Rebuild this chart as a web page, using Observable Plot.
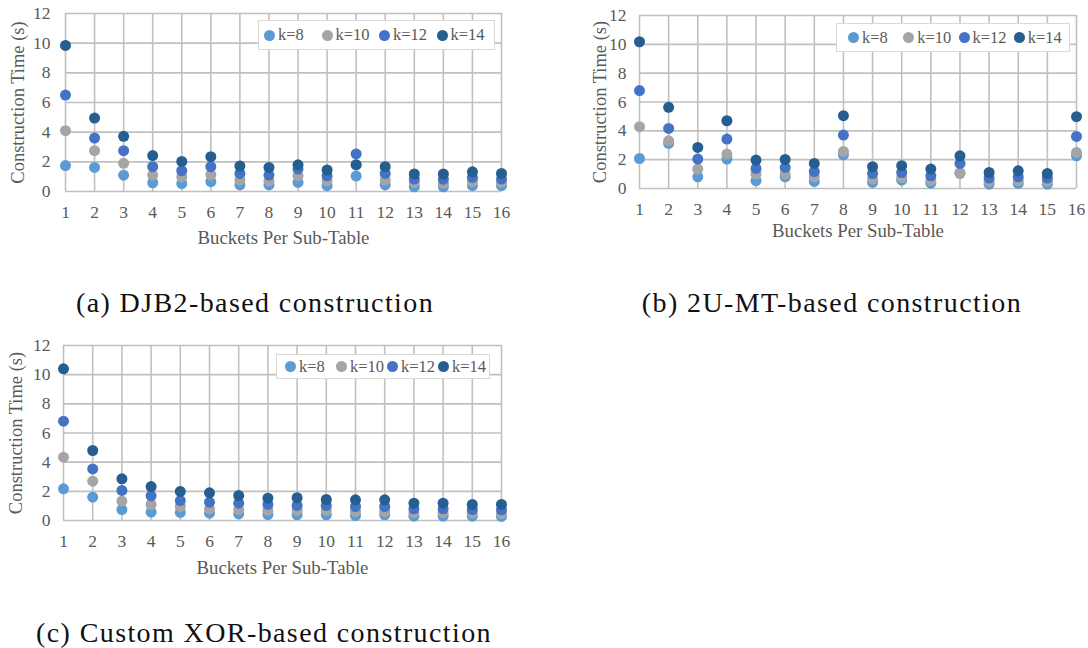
<!DOCTYPE html>
<html>
<head>
<meta charset="utf-8">
<script src="https://cdn.jsdelivr.net/npm/d3@7"></script>
<script src="https://cdn.jsdelivr.net/npm/@observablehq/plot@0.6"></script>
<style>
  html, body { margin: 0; padding: 0; background: #fff; }
  #root { position: relative; width: 1088px; height: 648px; overflow: hidden; background: #fff; }
  .panel { position: absolute; }
  .legend { position: absolute; box-sizing: border-box; background: #fff; border: 1px solid #d9d9d9;
            display: flex; align-items: center; font-family: "Liberation Serif", serif; font-size: 16.5px; color: #595959; }
  .item { display: flex; align-items: center; white-space: nowrap; }
  .sw { display: inline-block; width: 11px; height: 11px; border-radius: 50%; margin-right: 3px; }
  .caption { position: absolute; font-family: "Liberation Serif", serif; font-size: 28px; line-height: 28px;
             letter-spacing: 1.4px; color: #111; text-align: center; white-space: nowrap; }
</style>
</head>
<body>
<div id="root"></div>
<script>
// ---- data ----
const buckets = [1, 2, 3, 4, 5, 6, 7, 8, 9, 10, 11, 12, 13, 14, 15, 16];
const seriesNames = ["k=8", "k=10", "k=12", "k=14"];
const seriesColors = ["#5B9BD5", "#A5A5A5", "#4472C4", "#255E91"];
const yTicks = [0, 2, 4, 6, 8, 10, 12];
const xAxisLabel = "Buckets Per Sub-Table";
const yAxisLabel = "Construction Time (s)";

// (a) DJB2
const djb2K8  = [1.75, 1.62, 1.10, 0.59, 0.54, 0.66, 0.45, 0.45, 0.61, 0.39, 1.04, 0.45, 0.32, 0.32, 0.39, 0.39];
const djb2K10 = [4.10, 2.75, 1.90, 1.11, 0.99, 1.13, 0.77, 0.72, 1.06, 0.72, 1.78, 0.77, 0.61, 0.55, 0.66, 0.61];
const djb2K12 = [6.50, 3.60, 2.75, 1.67, 1.40, 1.67, 1.22, 1.11, 1.51, 1.06, 2.53, 1.22, 0.84, 0.82, 0.95, 0.84];
const djb2K14 = [9.85, 4.95, 3.72, 2.42, 2.03, 2.35, 1.72, 1.62, 1.80, 1.45, 1.81, 1.67, 1.18, 1.18, 1.33, 1.22];

// (b) 2U-MT
const mtK8  = [2.08, 3.13, 0.81, 2.04, 0.54, 0.81, 0.49, 2.34, 0.42, 0.58, 0.37, 1.05, 0.30, 0.35, 0.30, 2.27];
const mtK10 = [4.29, 3.31, 1.35, 2.39, 1.00, 1.00, 0.81, 2.57, 0.65, 0.76, 0.54, 1.10, 0.49, 0.54, 0.49, 2.50];
const mtK12 = [6.79, 4.17, 2.04, 3.43, 1.39, 1.46, 1.18, 3.71, 1.04, 1.11, 0.88, 1.74, 0.72, 0.81, 0.72, 3.61];
const mtK14 = [10.18, 5.63, 2.85, 4.70, 1.97, 2.02, 1.74, 5.05, 1.51, 1.58, 1.35, 2.27, 1.11, 1.23, 1.04, 4.98];

// (c) Custom XOR
const xorK8  = [2.17, 1.60, 0.75, 0.57, 0.55, 0.50, 0.46, 0.41, 0.39, 0.39, 0.34, 0.39, 0.30, 0.30, 0.30, 0.28];
const xorK10 = [4.34, 2.70, 1.33, 1.10, 0.96, 0.80, 0.75, 0.69, 0.69, 0.69, 0.62, 0.62, 0.53, 0.53, 0.50, 0.48];
const xorK12 = [6.81, 3.54, 2.06, 1.69, 1.37, 1.26, 1.19, 1.10, 1.03, 1.03, 0.96, 0.96, 0.80, 0.80, 0.75, 0.73];
const xorK14 = [10.40, 4.80, 2.86, 2.33, 1.99, 1.90, 1.71, 1.53, 1.56, 1.44, 1.42, 1.42, 1.19, 1.19, 1.10, 1.10];

const captions = ["(a) DJB2-based construction", "(b) 2U-MT-based construction", "(c) Custom XOR-based construction"];

// ---- layout ----
const panels = [
  { series: [djb2K8, djb2K10, djb2K12, djb2K14], caption: captions[0],
    box: { left: 0, top: 0, width: 520, height: 250 }, m: { l: 65, r: 19, t: 13, b: 59 },
    xTickPad: 14, yTickPad: 15, xLabelDy: 46, yLabelDx: -47,
    legend: { left: 258, top: 20, width: 237, height: 30, pad: 5, step: 60 },
    cap: { center: 255, top: 289 } },
  { series: [mtK8, mtK10, mtK12, mtK14], caption: captions[1],
    box: { left: 570, top: 0, width: 518, height: 250 }, m: { l: 69, r: 12, t: 15, b: 62 },
    xTickPad: 14, yTickPad: 13, xLabelDy: 42, yLabelDx: -39,
    legend: { left: 836, top: 23, width: 234, height: 29, pad: 11, step: 56 },
    cap: { center: 832, top: 289 } },
  { series: [xorK8, xorK10, xorK12, xorK14], caption: captions[2],
    box: { left: 0, top: 330, width: 520, height: 250 }, m: { l: 63, r: 19, t: 15, b: 60 },
    xTickPad: 14, yTickPad: 13, xLabelDy: 47, yLabelDx: -47,
    legend: { left: 276, top: 354, width: 214, height: 25, pad: 8, step: 54 },
    cap: { center: 264, top: 619 } }
];

const root = document.getElementById("root");
const grid = "#c0c0c0";

for (const p of panels) {
  const rows = seriesNames.flatMap((name, si) =>
    buckets.map((b, i) => ({ bucket: b, time: p.series[si][i], series: name })));

  const chart = Plot.plot({
    width: p.box.width, height: p.box.height,
    marginLeft: p.m.l, marginRight: p.m.r, marginTop: p.m.t, marginBottom: p.m.b,
    style: { fontFamily: "'Liberation Serif', serif", fontSize: "17px", color: "#595959", background: "transparent", overflow: "visible" },
    x: { domain: [1, 16] },
    y: { domain: [0, 12] },
    color: { domain: seriesNames, range: seriesColors },
    marks: [
      Plot.gridX(buckets, { stroke: grid, strokeOpacity: 1, strokeWidth: 1.6 }),
      Plot.gridY(yTicks, { stroke: grid, strokeOpacity: 1, strokeWidth: 1.6 }),
      Plot.axisX(buckets, { tickSize: 0, tickPadding: p.xTickPad, label: null, fontSize: 17.5, tickFormat: d => String(d) }),
      Plot.axisY(yTicks, { tickSize: 0, tickPadding: p.yTickPad, label: null, fontSize: 17.5, tickFormat: d => String(d) }),
      Plot.dot(rows, { x: "bucket", y: "time", fill: "series", r: 5.5 }),
      Plot.text([xAxisLabel], { text: d => d, frameAnchor: "bottom", dy: p.xLabelDy, lineAnchor: "middle",
                                textAnchor: "middle", fontSize: 18.8, fill: "#595959" }),
      Plot.text([yAxisLabel], { text: d => d, frameAnchor: "left", dx: p.yLabelDx, rotate: -90, lineAnchor: "middle",
                                textAnchor: "middle", fontSize: 18.5, fill: "#595959" })
    ]
  });

  const wrap = document.createElement("div");
  wrap.className = "panel";
  wrap.style.left = p.box.left + "px";
  wrap.style.top = p.box.top + "px";
  wrap.appendChild(chart);
  root.appendChild(wrap);

  // legend
  const lg = document.createElement("div");
  lg.className = "legend";
  Object.assign(lg.style, { left: p.legend.left + "px", top: p.legend.top + "px",
    width: p.legend.width + "px", height: p.legend.height + "px", paddingLeft: p.legend.pad + "px" });
  seriesNames.forEach((name, i) => {
    const it = document.createElement("div");
    it.className = "item";
    it.style.width = p.legend.step + "px";
    const sw = document.createElement("span");
    sw.className = "sw";
    sw.style.background = seriesColors[i];
    const tx = document.createElement("span");
    tx.textContent = name;
    it.appendChild(sw); it.appendChild(tx);
    lg.appendChild(it);
  });
  root.appendChild(lg);

  // caption
  const cp = document.createElement("div");
  cp.className = "caption";
  cp.textContent = p.caption;
  cp.style.top = p.cap.top + "px";
  cp.style.left = (p.cap.center - 300) + "px";
  cp.style.width = "600px";
  root.appendChild(cp);
}
</script>
</body>
</html>
